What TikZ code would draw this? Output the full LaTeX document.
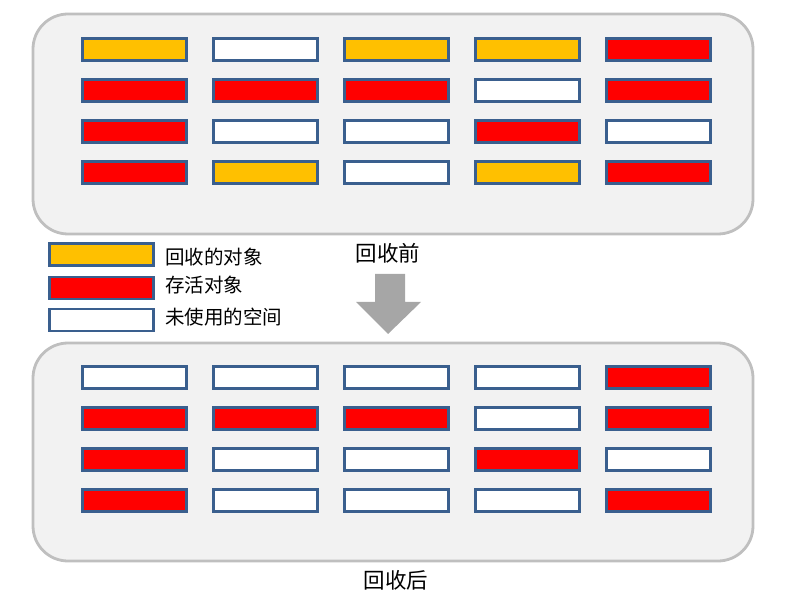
\documentclass[tikz,border=0pt]{standalone}
\usepackage{fontspec}
\newfontfamily\cjk{Noto Sans CJK SC}
\definecolor{panelfill}{HTML}{F2F2F2}
\definecolor{panelline}{HTML}{BFBFBF}
\definecolor{cellline}{HTML}{3A5F8E}
\definecolor{collect}{HTML}{FFC000}
\definecolor{alive}{HTML}{FF0000}
\definecolor{arrowgray}{HTML}{A6A6A6}
\tikzset{
	panel/.style={draw=panelline, fill=panelfill, line width=2.8pt, rounded corners=35pt},
	cell/.style={draw=cellline, line width=2.8pt, minimum width=104pt, minimum height=22pt, inner sep=0pt},
	lbl/.style={font=\cjk\fontsize{19.5}{19.5}\selectfont, anchor=west, inner sep=0pt},
	caption/.style={font=\cjk\fontsize{21.5}{21.5}\selectfont, inner sep=0pt}
}

\begin{document}
\begin{tikzpicture}[x=1pt, y=-1pt]
		\useasboundingbox (0,0) rectangle (792,609);
		
		% panels
		\draw[panel] (33,14) rectangle (753,234);
		\draw[panel] (33,343) rectangle (753,561);
		
		% before collection
		\foreach \row/\cols [count=\r] in {0/{collect,white,collect,collect,alive},
			1/{alive,alive,alive,white,alive},
			2/{alive,white,white,alive,white},
			3/{alive,collect,white,collect,alive}}
		\foreach \c [count=\k] in \cols
			\node[cell, fill=\c] (before-\r-\k) at ({134.5+131*(\k-1)}, {49.5+41*\row}) {};
		
		% after collection
		\foreach \row/\cols [count=\r] in {0/{white,white,white,white,alive},
			1/{alive,alive,alive,white,alive},
			2/{alive,white,white,alive,white},
			3/{alive,white,white,white,alive}}
		\foreach \c [count=\k] in \cols
			\node[cell, fill=\c] (after-\r-\k) at ({134.5+131*(\k-1)}, {377.5+41*\row}) {};
		
		% legend
		\node[cell, fill=collect] (key1) at (101.5,254.5) {};
		\node[cell, fill=alive] (key2) at (101.5,288) {};
		\node[cell, fill=white] (key3) at (101.5,320) {};
		\node[lbl] (txt1) at (165,257) {回收的对象};
		\node[lbl] (txt2) at (165,285) {存活对象};
		\node[lbl] (txt3) at (165,317) {未使用的空间};
		
		\node[caption] (before) at (388,253) {回收前};
		\node[caption] (after) at (396,580) {回收后};
		
		% arrow
		\fill[arrowgray] (375,274) -- (405,274) -- (405,302) -- (421,302) -- (388,334) -- (356,302) -- (375,302) -- cycle;
\end{tikzpicture}
\end{document}
